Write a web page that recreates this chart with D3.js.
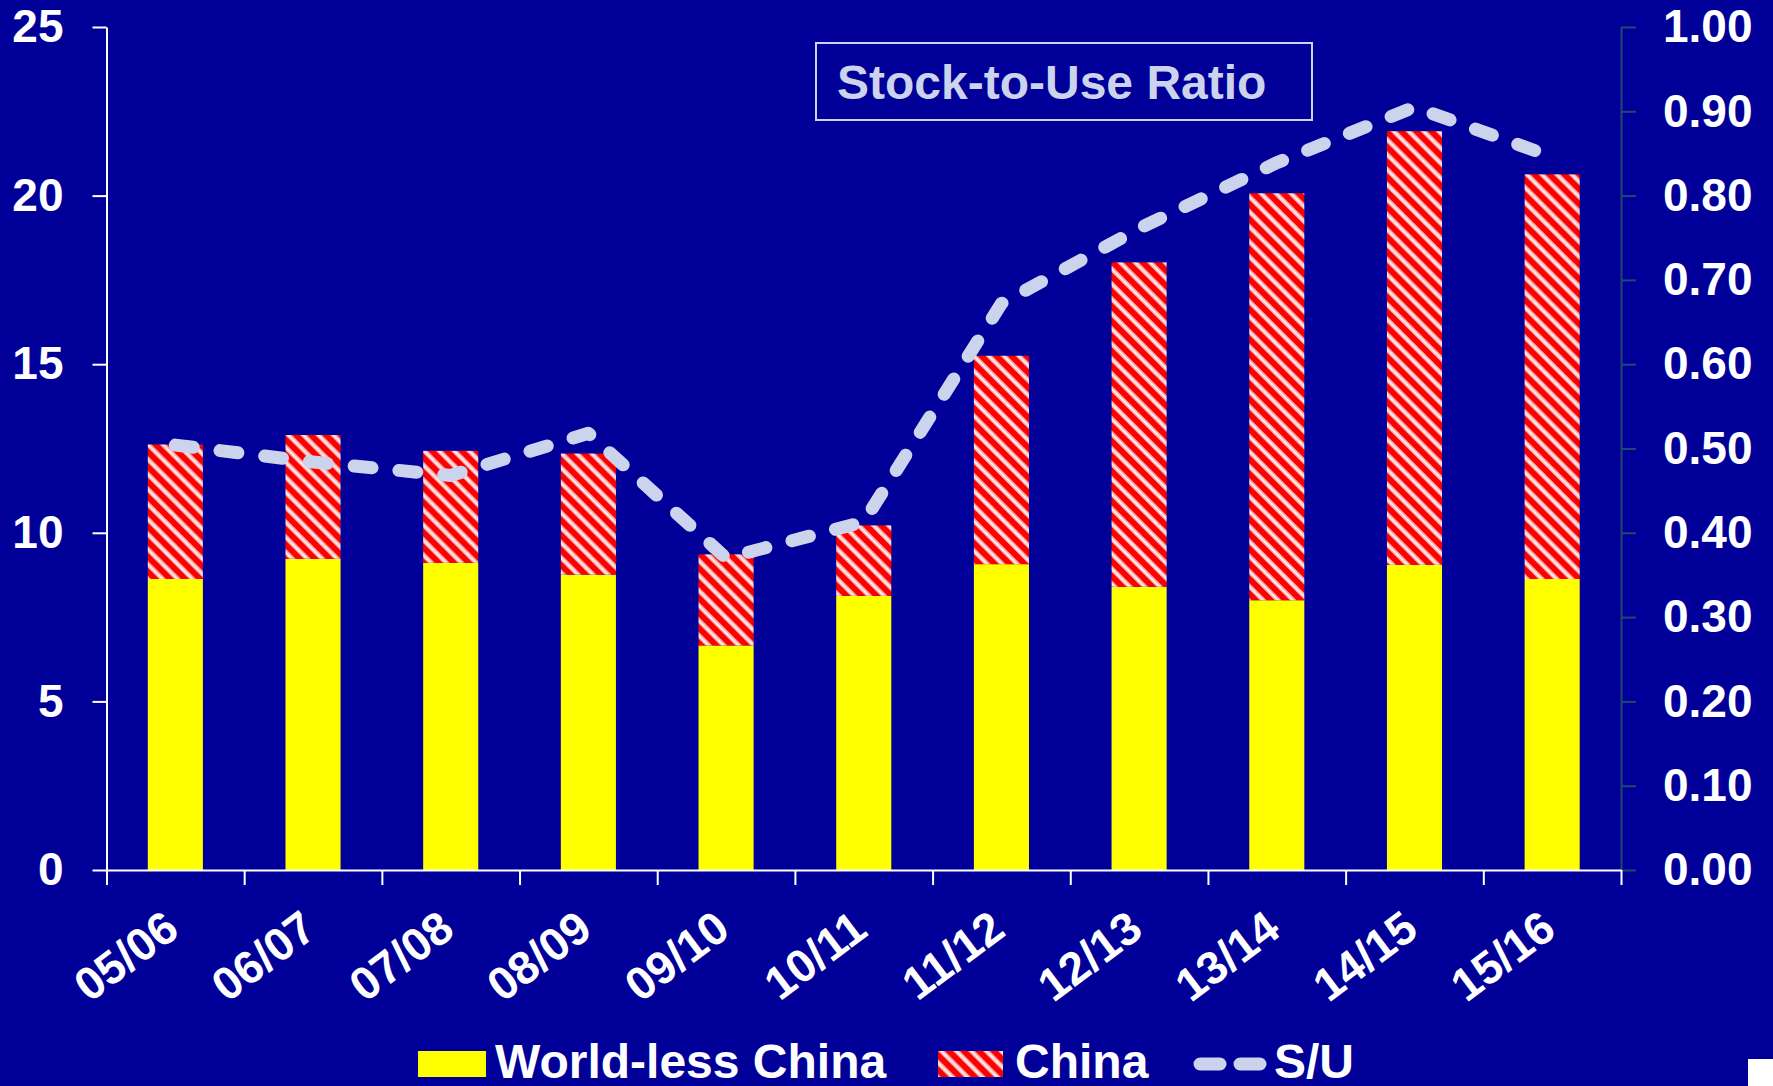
<!DOCTYPE html>
<html>
<head>
<meta charset="utf-8">
<script src="https://cdn.jsdelivr.net/npm/d3@7"></script>
<style>
  html, body { margin: 0; padding: 0; background: #000099; }
  svg { display: block; }
</style>
</head>
<body>
<svg id="chart" width="1773" height="1086"></svg>
<script>
// chart values
var seasons = ['05/06', '06/07', '07/08', '08/09', '09/10', '10/11', '11/12', '12/13', '13/14', '14/15', '15/16'];
var worldLessChina = [8.63, 9.23, 9.11, 8.76, 6.66, 8.13, 9.07, 8.40, 8.00, 9.05, 8.63];
var china = [3.99, 3.67, 3.32, 3.59, 2.70, 2.09, 6.18, 9.62, 12.07, 12.86, 12.00];
var stockToUse = [0.504, 0.484, 0.468, 0.518, 0.370, 0.413, 0.672, 0.761, 0.839, 0.905, 0.846];
var leftTicks = [0, 5, 10, 15, 20, 25];
var rightTicks = [0, 0.1, 0.2, 0.3, 0.4, 0.5, 0.6, 0.7, 0.8, 0.9, 1.0];
var seriesNames = ['World-less China', 'China', 'S/U'];
var titleText = 'Stock-to-Use Ratio';

var FONT = '"Liberation Sans", Arial, Helvetica, sans-serif';
var BG = '#000099',
  YELLOW = '#ffff00',
  RED = '#ff0000',
  LAVENDER = '#ccd3ec',
  TEAL = '#1e4a6e';

var svg = d3.select('#chart');
var W = 1773, H = 1086;
var plotLeft = 106.5, plotRight = 1621, plotTop = 27, plotBottom = 870;

svg.append('rect').attr('width', W).attr('height', H).attr('fill', BG);

// hatch pattern for the China segment (white stripes, top-left to bottom-right)
var P = 10.6;
var defs = svg.append('defs');
var pat = defs.append('pattern')
  .attr('id', 'hatch')
  .attr('patternUnits', 'userSpaceOnUse')
  .attr('width', P)
  .attr('height', P)
  .attr('patternTransform', 'rotate(-45)');
pat.append('rect').attr('width', P).attr('height', P).attr('fill', RED);
pat.append('rect').attr('x', 0).attr('width', 1.2).attr('height', P).attr('fill', '#ffa8a8');
pat.append('rect').attr('x', 1.2).attr('width', 2.4).attr('height', P).attr('fill', '#ffffff');
pat.append('rect').attr('x', 3.6).attr('width', 1.2).attr('height', P).attr('fill', '#ffa8a8');

// scales
var x = d3.scaleBand()
  .domain(seasons)
  .range([plotLeft, plotRight])
  .paddingInner(0.6)
  .paddingOuter(0.3);

var xEdges = d3.scaleLinear()
  .domain([0, seasons.length])
  .range([plotLeft, plotRight]);

var y = d3.scaleLinear().domain([0, 25]).range([plotBottom, plotTop]);
var y2 = d3.scaleLinear().domain([0, 1]).range([plotBottom, plotTop]);

// stacked bars
var rows = seasons.map(function(s, i) {
  return { season: s, world: worldLessChina[i], china: china[i] };
});
var stack = d3.stack().keys(['world', 'china'])(rows);
var fills = { world: YELLOW, china: 'url(#hatch)' };

svg.append('g')
  .selectAll('g')
  .data(stack)
  .enter().append('g')
  .attr('fill', function(d) { return fills[d.key]; })
  .selectAll('rect')
  .data(function(d) { return d; })
  .enter().append('rect')
  .attr('x', function(d) { return x(d.data.season); })
  .attr('width', x.bandwidth())
  .attr('y', function(d) { return y(d[1]); })
  .attr('height', function(d) { return y(d[0]) - y(d[1]); });

// left axis
var gLeft = svg.append('g')
  .attr('transform', 'translate(' + plotLeft + ',0)')
  .call(d3.axisLeft(y).tickValues(leftTicks).tickSize(14).tickPadding(29).tickSizeOuter(0));
gLeft.selectAll('path, line').attr('stroke', '#ffffff').attr('stroke-width', 2);
gLeft.selectAll('text')
  .attr('fill', '#ffffff')
  .attr('font-family', FONT)
  .attr('font-weight', 'bold')
  .attr('font-size', 46);

// right axis
var gRight = svg.append('g')
  .attr('transform', 'translate(' + plotRight + ',0)')
  .call(d3.axisRight(y2).tickValues(rightTicks).tickFormat(d3.format('.2f'))
    .tickSize(15).tickPadding(27).tickSizeOuter(0));
gRight.selectAll('path, line').attr('stroke', TEAL).attr('stroke-width', 2);
gRight.selectAll('text')
  .attr('fill', '#ffffff')
  .attr('font-family', FONT)
  .attr('font-weight', 'bold')
  .attr('font-size', 46);

// bottom axis, ticks between categories
var gBottom = svg.append('g')
  .attr('transform', 'translate(0,' + plotBottom + ')')
  .call(d3.axisBottom(xEdges).tickValues(d3.range(seasons.length + 1))
    .tickFormat('').tickSize(15).tickSizeOuter(0));
gBottom.selectAll('path, line').attr('stroke', '#ffffff').attr('stroke-width', 2);

// rotated category labels
svg.append('g')
  .selectAll('text')
  .data(seasons)
  .enter().append('text')
  .attr('transform', function(d) {
    return 'translate(' + (x(d) + x.bandwidth() / 2 + 6) + ',' + (plotBottom + 64) + ') rotate(-37)';
  })
  .attr('text-anchor', 'end')
  .attr('fill', '#ffffff')
  .attr('font-family', FONT)
  .attr('font-weight', 'bold')
  .attr('font-size', 46)
  .text(function(d) { return d; });

// stock-to-use line
var line = d3.line()
  .x(function(d, i) { return x(seasons[i]) + x.bandwidth() / 2; })
  .y(function(d) { return y2(d); });

svg.append('path')
  .datum(stockToUse)
  .attr('d', line)
  .attr('fill', 'none')
  .attr('stroke', LAVENDER)
  .attr('stroke-width', 13)
  .attr('stroke-linecap', 'round')
  .attr('stroke-linejoin', 'round')
  .attr('stroke-dasharray', '18 27');

// title box
var title = svg.append('g');
title.append('rect')
  .attr('x', 816).attr('y', 43)
  .attr('width', 496).attr('height', 77)
  .attr('fill', 'none')
  .attr('stroke', LAVENDER)
  .attr('stroke-width', 2);
title.append('text')
  .attr('x', 837).attr('y', 99)
  .attr('fill', LAVENDER)
  .attr('font-family', FONT)
  .attr('font-weight', 'bold')
  .attr('font-size', 48)
  .text(titleText);

// legend
var legendX = [418, 938, 1194];
var legend = svg.append('g')
  .selectAll('g')
  .data(seriesNames)
  .enter().append('g')
  .attr('transform', function(d, i) { return 'translate(' + legendX[i] + ',1051)'; });

legend.each(function(d, i) {
  var g = d3.select(this);
  if (i < 2) {
    g.append('rect')
      .attr('width', i === 0 ? 68 : 65)
      .attr('height', 26)
      .attr('fill', i === 0 ? YELLOW : 'url(#hatch)');
    g.append('text')
      .attr('x', 77)
      .attr('y', 27)
      .attr('fill', '#ffffff')
      .attr('font-family', FONT)
      .attr('font-weight', 'bold')
      .attr('font-size', 48)
      .text(d);
  } else {
    g.append('line')
      .attr('x1', 6).attr('x2', 71)
      .attr('y1', 13).attr('y2', 13)
      .attr('stroke', LAVENDER)
      .attr('stroke-width', 13)
      .attr('stroke-linecap', 'round')
      .attr('stroke-dasharray', '20 20');
    g.append('text')
      .attr('x', 80)
      .attr('y', 27)
      .attr('fill', '#ffffff')
      .attr('font-family', FONT)
      .attr('font-weight', 'bold')
      .attr('font-size', 48)
      .text(d);
  }
});

// white corner at bottom right
svg.append('rect')
  .attr('x', 1748).attr('y', 1059)
  .attr('width', W - 1748).attr('height', H - 1059)
  .attr('fill', '#ffffff');
</script>
</body>
</html>
